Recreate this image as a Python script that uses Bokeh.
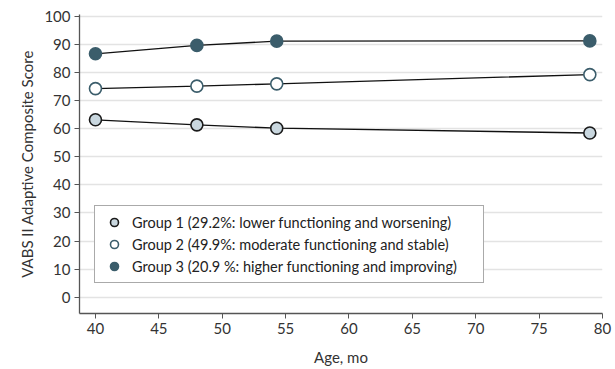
from bokeh.plotting import figure
from bokeh.models import Legend, LegendItem, Range1d, FixedTicker
from bokeh.embed import file_html
from bokeh.resources import INLINE

ages = [40, 48, 54.3, 79]
group1 = [63.2, 61.4, 60.2, 58.5]
group2 = [74.3, 75.2, 76.0, 79.3]
group3 = [86.7, 89.7, 91.2, 91.3]
labels = [
    "Group 1 (29.2%: lower functioning and worsening)",
    "Group 2 (49.9%: moderate functioning and stable)",
    "Group 3 (20.9 %: higher functioning and improving)",
]
x_ticks = [40, 45, 50, 55, 60, 65, 70, 75, 80]
y_ticks = [0, 10, 20, 30, 40, 50, 60, 70, 80, 90, 100]

FONT = "Lato"
TEAL = "#3b5d6b"

p = figure(width=615, height=369, output_backend="svg", toolbar_location=None,
           x_range=Range1d(38.74, 80), y_range=Range1d(-5.8, 100.7),
           min_border_left=79, min_border_right=13, min_border_top=14, min_border_bottom=56)
p.outline_line_color = None
p.xgrid.grid_line_color = None
p.ygrid.grid_line_color = "#e3e3e3"
p.ygrid.grid_line_width = 1.5

p.xaxis.ticker = FixedTicker(ticks=x_ticks)
p.yaxis.ticker = FixedTicker(ticks=y_ticks)
for ax in (p.xaxis, p.yaxis):
    ax.axis_line_color = "#555555"
    ax.axis_line_width = 1.3
    ax.major_tick_line_color = "#555555"
    ax.major_tick_in = 0
    ax.major_tick_out = 5
    ax.minor_tick_line_color = None
    ax.major_label_text_font = FONT
    ax.major_label_text_font_size = "15px"
    ax.major_label_text_color = "#333333"
    ax.axis_label_text_font = FONT
    ax.axis_label_text_font_size = "15px"
    ax.axis_label_text_font_style = "normal"
    ax.axis_label_text_color = "#333333"
p.xaxis.axis_label = "Age, mo"
p.yaxis.axis_label = "VABS II Adaptive Composite Score"
p.yaxis.major_label_standoff = 4
p.xaxis.major_label_standoff = 4
p.xaxis.axis_label_standoff = 11

renderers = []
styles = [
    (group1, "#c9d7df", "#1a1a1a"),
    (group2, "white", TEAL),
    (group3, TEAL, TEAL),
]
for ys, fill, line in styles:
    p.line(ages, ys, line_color="#111111", line_width=1.3)
    r = p.scatter(ages, ys, size=12, fill_color=fill, line_color=line, line_width=1.6)
    renderers.append(r)

legend = Legend(items=[LegendItem(label=l, renderers=[r]) for l, r in zip(labels, renderers)],
                location=(15, 30), padding=6, spacing=2,
                glyph_width=26, glyph_height=20, label_height=20, label_width=345,
                label_standoff=5, label_text_font=FONT, label_text_font_size="14.5px",
                label_text_color="#222222", border_line_color="#555555", border_line_width=1.3,
                background_fill_alpha=1.0, margin=0)
p.add_layout(legend, "center")

open("out.html", "w").write(file_html(p, INLINE))
